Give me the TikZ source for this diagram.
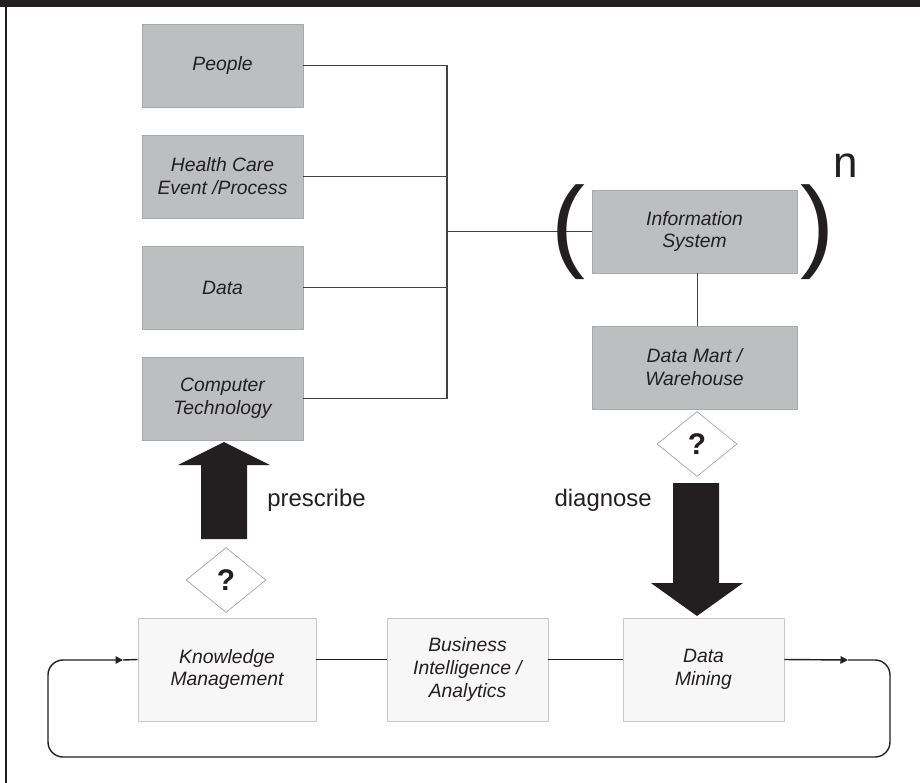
\documentclass[tikz,border=0pt]{standalone}
\usepackage{fontspec}
\setmainfont{Liberation Sans}
\usetikzlibrary{shapes.geometric,arrows.meta}
\definecolor{ink}{HTML}{231F20}
\definecolor{boxgrey}{HTML}{BCBEC0}
\definecolor{boxedge}{HTML}{A7A9AC}
\definecolor{paleface}{HTML}{F7F7F7}
\definecolor{paleedge}{HTML}{C8C8C8}
\tikzset{
	topbox/.style={draw=boxedge,fill=boxgrey,minimum width=32.2mm,minimum height=16.6mm,align=center,text=ink,font=\fontsize{11}{13}\selectfont\itshape},
	widebox/.style={topbox,minimum width=41mm},
	loopbox/.style={topbox,draw=paleedge,fill=paleface,minimum height=20.6mm},
	query/.style={diamond,draw=gray!70,fill=white,minimum width=16mm,minimum height=13mm,inner sep=0pt,text=ink,font=\fontsize{17}{17}\selectfont\bfseries},
	link/.style={draw=ink!85,line width=0.6pt},
	loopline/.style={draw=ink,line width=0.8pt},
	verb/.style={text=ink,font=\fontsize{13.6}{15}\selectfont,inner sep=0pt},
}
\begin{document}
\begin{tikzpicture}[x=0.2mm,y=-0.2mm]
	\useasboundingbox (0,0) rectangle (920,783);
	\fill[ink] (0,0) rectangle (920,7);
	\fill[ink] (4.5,0) rectangle (7,783);
	% inputs
	\node[topbox] (people) at (222.5,65.5) {People};
	\node[topbox] (care) at (222.5,176.5) {Health Care\\Event /Process};
	\node[topbox] (data) at (222.5,287.5) {Data};
	\node[topbox] (comp) at (222.5,398.5) {Computer\\Technology};
	\node[widebox] (info) at (694.5,231.5) {Information\\System};
	\node[widebox] (mart) at (694.5,367.5) {Data Mart /\\Warehouse};
	\coordinate (bus) at (447,231.5);
	\draw[link] (people.east) -| (bus);
	\draw[link] (comp.east) -| (bus);
	\foreach \b in {care,data} {\draw[link] (\b.east) -- (\b.east -| bus);}
	\draw[link] (bus) -- (info.west);
	\draw[link] ([xshift=0.6mm]info.south) -- ([xshift=0.6mm]mart.north);
	\node[inner sep=0pt,text=ink,font=\fontsize{58}{58}\selectfont] (lpar) at (568,232) {(};
	\node[inner sep=0pt,text=ink,font=\fontsize{58}{58}\selectfont] (rpar) at (817,232) {)};
	\node[inner sep=0pt,text=ink,font=\fontsize{25}{25}\selectfont] (pow) at (846,166) {n};
	% loop
	\node[loopbox,minimum width=35.6mm] (km) at (227,669.5) {Knowledge\\Management};
	\node[loopbox] (bi) at (467.5,669.5) {Business\\Intelligence /\\Analytics};
	\node[loopbox] (dm) at (703.5,669.5) {Data\\Mining};
	\draw[loopline] ([yshift=2mm]km.east) -- ([yshift=2mm]bi.west);
	\draw[loopline] ([yshift=2mm]bi.east) -- ([yshift=2mm]dm.west);
	\coordinate (tipR) at (848,660);
	\coordinate (tipL) at (123,660);
	\draw[loopline,-{Triangle[length=1.5mm,width=1.5mm]}] ([yshift=2mm]dm.east) -- (tipR);
	\draw[loopline,rounded corners=3mm,-{Triangle[length=1.5mm,width=1.5mm]}] (tipR) -- (890,660) -- (890,757) -- (48,757) -- (48,660) -- (tipL);
	\draw[loopline] (tipL) -- ([yshift=2mm]km.west);
	% block arrows
	\fill[ink] (224,442) -- (270,465) -- (247,465) -- (247,539) -- (201,539) -- (201,465) -- (178,465) -- cycle;
	\fill[ink] (697,616) -- (743,583) -- (719,583) -- (719,483) -- (673,483) -- (673,583) -- (651,583) -- cycle;
	\node[query] (qleft) at (226,580) {?};
	\node[query] (qright) at (697,444) {?};
	\node[verb,anchor=base west] (presc) at (267,506) {prescribe};
	\node[verb,anchor=base east] (diag) at (652,506) {diagnose};
\end{tikzpicture}
\end{document}
